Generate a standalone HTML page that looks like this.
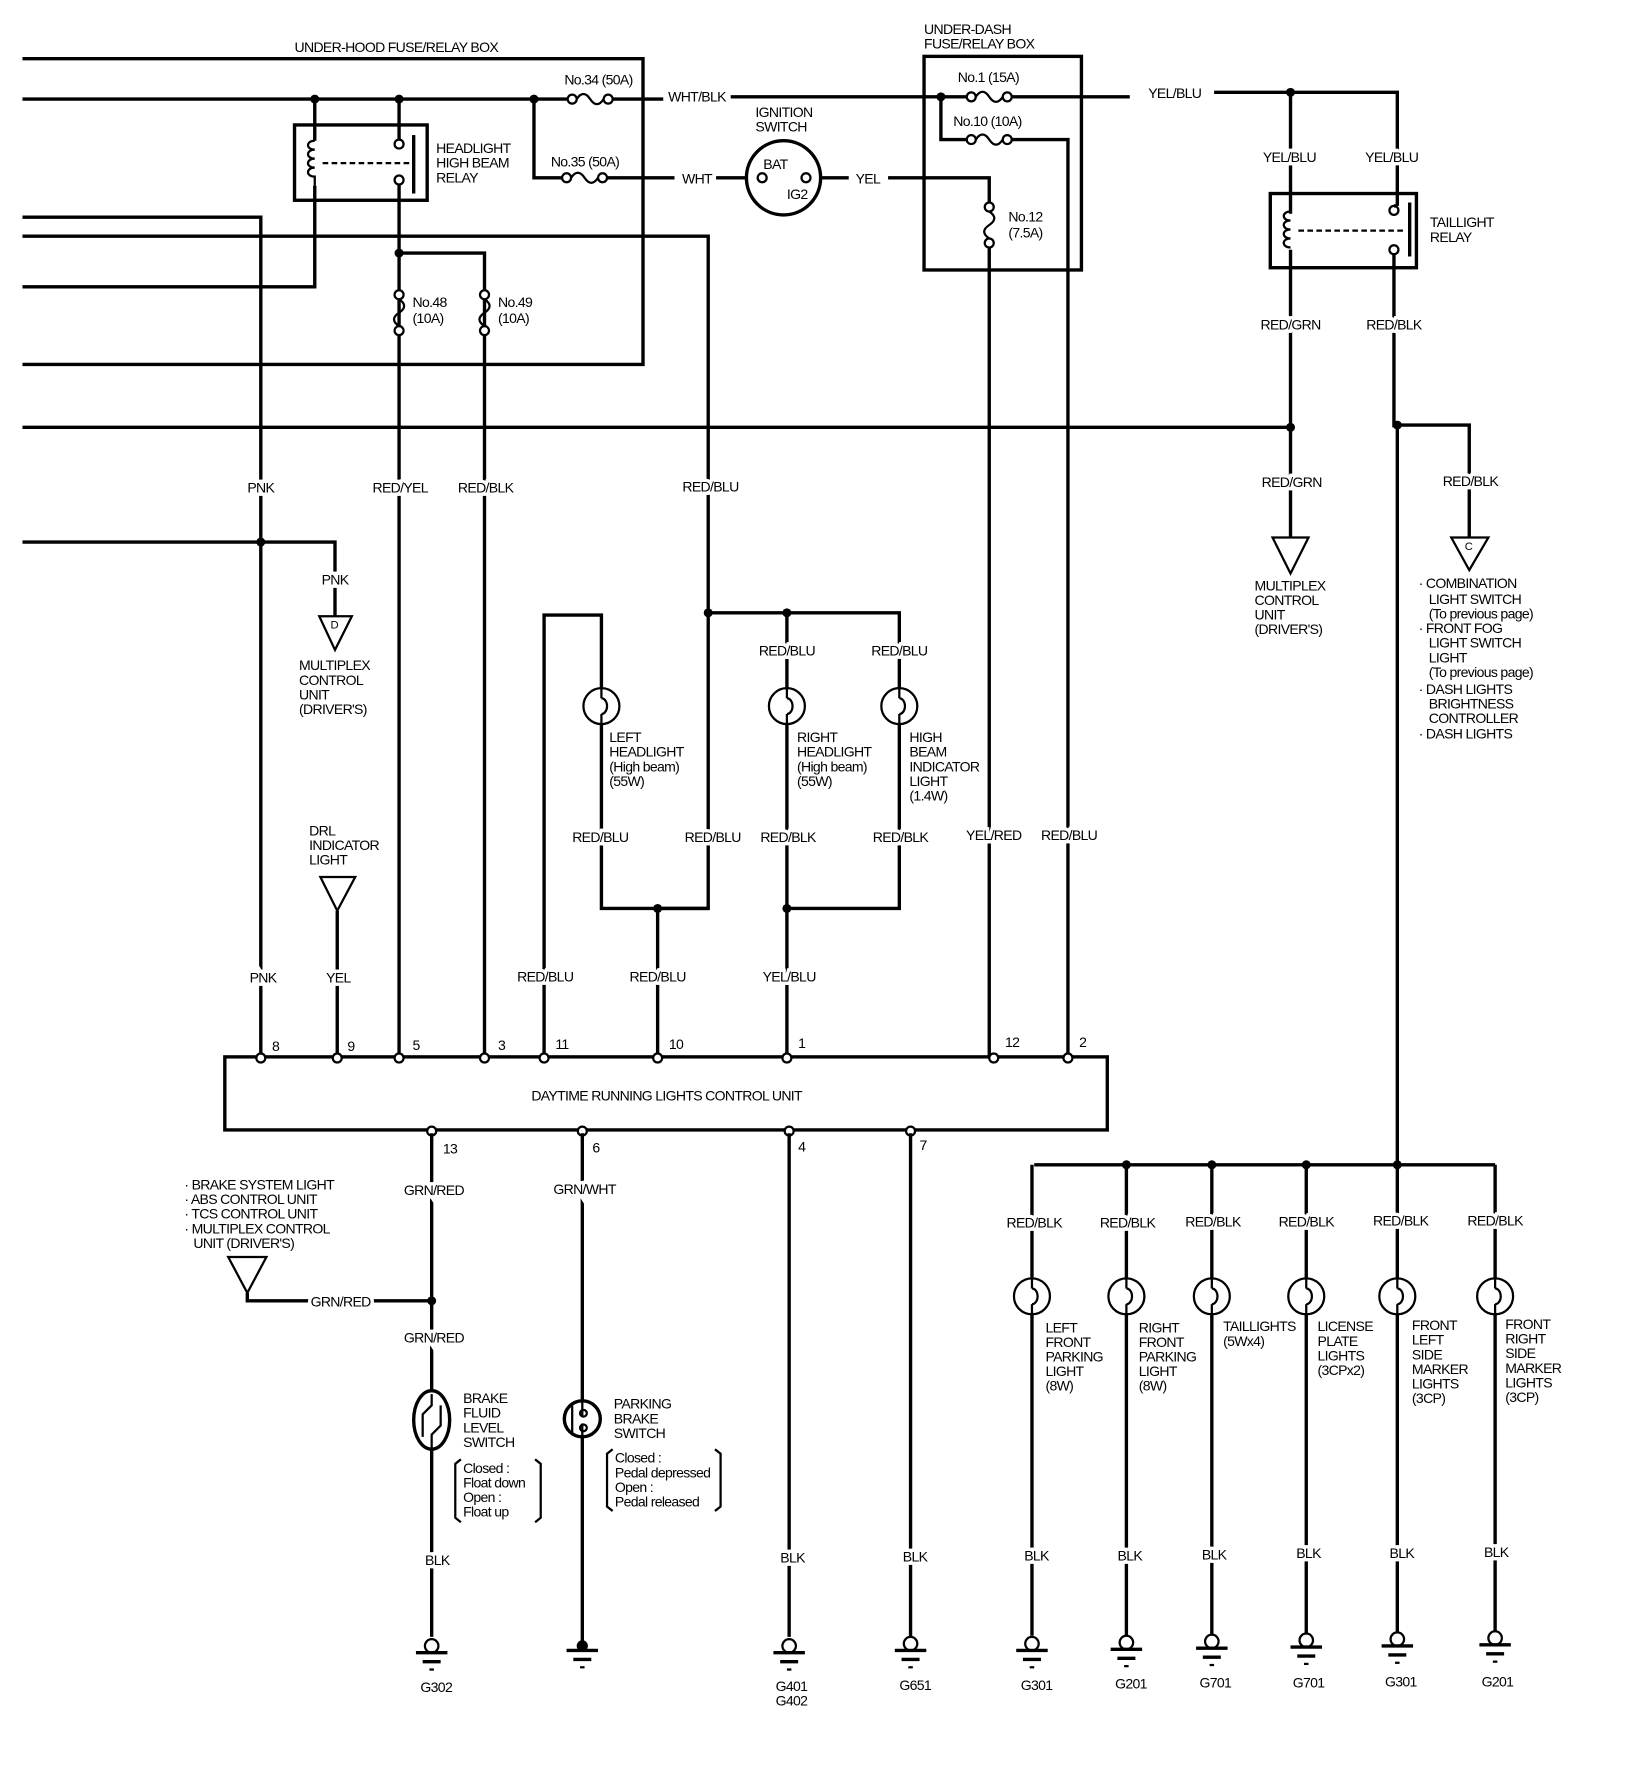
<!DOCTYPE html>
<html><head><meta charset="utf-8"><style>
html,body{margin:0;padding:0;background:#fff}
svg{display:block}
text{font-family:"Liberation Sans",sans-serif;font-size:12.5px;fill:#000;letter-spacing:-0.6px}
.l{stroke:#fff;stroke-width:6;paint-order:stroke;text-anchor:middle}
.w{fill:none;stroke:#000;stroke-width:3}
.t{fill:none;stroke:#000;stroke-width:2}
</style></head><body>
<svg width="1648" height="1772" viewBox="0 0 1466 1576" xmlns="http://www.w3.org/2000/svg">
<defs>
<g id="bulb"><circle r="16" class="t"/><path d="M0,-16 V-7 M0,16 V7" class="t"/><path d="M0,-7 a5,7 0 1,1 0,14" class="t"/></g>
<g id="gnd"><circle cx="0" cy="-6" r="6" fill="#fff" stroke="#000" stroke-width="2"/><path d="M-14,0 H14" stroke="#000" stroke-width="3"/><path d="M-8,8 H8" stroke="#000" stroke-width="3"/><path d="M-2,15 H2" stroke="#000" stroke-width="2"/></g>
<g id="fh"><circle cx="4" cy="0" r="4" fill="#fff" stroke="#000" stroke-width="2"/><circle cx="36" cy="0" r="4" fill="#fff" stroke="#000" stroke-width="2"/><path d="M8,0 q6,-9 12,0 t12,0" class="t"/></g>
<g id="fv"><circle cx="0" cy="4" r="4" fill="#fff" stroke="#000" stroke-width="2"/><circle cx="0" cy="36" r="4" fill="#fff" stroke="#000" stroke-width="2"/><path d="M0,8 q9,6 0,12 t0,12" class="t"/></g>
</defs>

<!-- top left wires -->
<path class="w" d="M20 52 H572 V324 H20"/>
<path class="w" d="M20 88 H505 M545 88 H590 M650 86 H860 M898 86 H1005 M1080 82 H1243 V183"/>
<path class="w" d="M280 88 V125 M280 165 V255 H20"/>
<path class="w" d="M355 88 V124 M355 164 V940"/>
<path class="w" d="M355 225 H431 V940"/>
<path class="w" d="M475 88 V158 H500 M540 158 H600 M637 158 H664 M730 158 H755 M790 158 H880 V180 M880 218 V940"/>
<path class="w" d="M837 86 V124 H860 M900 124 H950 V940"/>
<path class="w" d="M20 193 H232 V940"/>
<path class="w" d="M20 210 H630 V808 H585 V940"/>
<path class="w" d="M20 380 H1148"/>
<path class="w" d="M20 482 H298 V548"/>
<!-- dots -->
<g fill="#000"><circle cx="280" cy="88" r="4"/><circle cx="355" cy="88" r="4"/><circle cx="475" cy="88" r="4"/><circle cx="837" cy="86" r="4"/><circle cx="1148" cy="82" r="4"/><circle cx="355" cy="225" r="4"/><circle cx="232" cy="482" r="4"/><circle cx="630" cy="545" r="4"/><circle cx="700" cy="545" r="4"/><circle cx="585" cy="808" r="4"/><circle cx="700" cy="808" r="4"/><circle cx="1148" cy="380" r="4"/><circle cx="1243" cy="378" r="4"/><circle cx="384" cy="1157" r="4"/><circle cx="1002" cy="1036" r="4"/><circle cx="1078" cy="1036" r="4"/><circle cx="1162" cy="1036" r="4"/><circle cx="1243" cy="1036" r="4"/></g>

<!-- fuses -->
<use href="#fh" x="505" y="88"/><use href="#fh" x="500" y="158"/><use href="#fh" x="860" y="86"/><use href="#fh" x="860" y="124"/>
<use href="#fv" x="355" y="258"/><use href="#fv" x="431" y="258"/><use href="#fv" x="880" y="180"/>
<rect x="352" y="258" width="0" height="0"/>
<text x="502" y="75">No.34 (50A)</text>
<text x="490" y="148">No.35 (50A)</text>
<text x="852" y="73">No.1 (15A)</text>
<text x="848" y="112">No.10 (10A)</text>
<text x="897" y="197">No.12</text><text x="897" y="211">(7.5A)</text>
<text x="367" y="273">No.48</text><text x="367" y="287">(10A)</text>
<text x="443" y="273">No.49</text><text x="443" y="287">(10A)</text>

<!-- headlight relay -->
<rect x="262" y="111" width="118" height="67" class="w"/>
<path class="t" d="M280 125 c-8,0 -8,8 0,8 c-8,0 -8,8 0,8 c-8,0 -8,8 0,8 c-8,0 -8,8 0,8 V165"/>
<path d="M287 145 H366" stroke="#000" stroke-width="2" stroke-dasharray="5,3"/>
<circle cx="355" cy="128" r="4" fill="#fff" stroke="#000" stroke-width="2"/><circle cx="355" cy="160" r="4" fill="#fff" stroke="#000" stroke-width="2"/>
<path d="M368 120 V172" stroke="#000" stroke-width="3"/>
<text x="388" y="136">HEADLIGHT</text><text x="388" y="149">HIGH BEAM</text><text x="388" y="162">RELAY</text>
<text x="262" y="46">UNDER-HOOD FUSE/RELAY BOX</text>

<!-- ignition switch -->
<circle cx="697" cy="158" r="33" class="w"/>
<circle cx="678" cy="158" r="4" fill="#fff" stroke="#000" stroke-width="2"/><circle cx="717" cy="158" r="4" fill="#fff" stroke="#000" stroke-width="2"/>
<text x="679" y="150">BAT</text><text x="700" y="177">IG2</text>
<text x="672" y="104">IGNITION</text><text x="672" y="117">SWITCH</text>

<!-- under-dash -->
<rect x="822" y="50" width="140" height="190" class="w"/>
<text x="822" y="30">UNDER-DASH</text><text x="822" y="43">FUSE/RELAY BOX</text>

<!-- taillight relay -->
<rect x="1130" y="172" width="130" height="66" class="w"/>
<path class="w" d="M1148 82 V190 M1148 222 V478"/>
<path class="t" d="M1148 188 c-8,0 -8,8 0,8 c-8,0 -8,8 0,8 c-8,0 -8,8 0,8 c-8,0 -8,8 0,8"/>
<path d="M1155 205 H1250" stroke="#000" stroke-width="2" stroke-dasharray="5,3"/>
<circle cx="1240" cy="187" r="4" fill="#fff" stroke="#000" stroke-width="2"/><circle cx="1240" cy="222" r="4" fill="#fff" stroke="#000" stroke-width="2"/>
<path d="M1254 180 V228" stroke="#000" stroke-width="3"/>
<path class="w" d="M1243 183 H1240 M1240 226 V380 M1243 378 V1036"/>
<path class="w" d="M1243 378 H1307 V478"/>
<text x="1272" y="202">TAILLIGHT</text><text x="1272" y="215">RELAY</text>
<polygon points="1132,478 1164,478 1148,510" class="t"/>
<polygon points="1291,478 1324,478 1307,507" class="t"/><text x="1303" y="489" style="font-size:10px">C</text>
<text x="1116" y="525">MULTIPLEX</text><text x="1116" y="538">CONTROL</text><text x="1116" y="551">UNIT</text><text x="1116" y="564">(DRIVER'S)</text>
<text x="1262" y="523">· COMBINATION</text><text x="1271" y="537">LIGHT SWITCH</text><text x="1271" y="550">(To previous page)</text>
<text x="1262" y="563">· FRONT FOG</text><text x="1271" y="576">LIGHT SWITCH</text><text x="1271" y="589">LIGHT</text><text x="1271" y="602">(To previous page)</text>
<text x="1262" y="617">· DASH LIGHTS</text><text x="1271" y="630">BRIGHTNESS</text><text x="1271" y="643">CONTROLLER</text><text x="1262" y="657">· DASH LIGHTS</text>

<!-- D triangle -->
<polygon points="284,548 313,548 298,578" class="t"/><text x="294" y="559" style="font-size:10px">D</text>
<text x="266" y="596">MULTIPLEX</text><text x="266" y="609">CONTROL</text><text x="266" y="622">UNIT</text><text x="266" y="635">(DRIVER'S)</text>

<!-- DRL indicator -->
<polygon points="285,780 316,780 300,810" class="t"/>
<path class="w" d="M300 810 V940"/>
<text x="275" y="743">DRL</text><text x="275" y="756">INDICATOR</text><text x="275" y="769">LIGHT</text>

<!-- headlights -->
<path class="w" d="M484 940 V547 H535 V612 M535 644 V808 H630"/>
<path class="w" d="M630 545 H800 V612 M700 545 V612 M700 644 V940 M700 808 H800 V644"/>
<use href="#bulb" x="535" y="628"/><use href="#bulb" x="700" y="628"/><use href="#bulb" x="800" y="628"/>
<text x="542" y="660">LEFT</text><text x="542" y="673">HEADLIGHT</text><text x="542" y="686">(High beam)</text><text x="542" y="699">(55W)</text>
<text x="709" y="660">RIGHT</text><text x="709" y="673">HEADLIGHT</text><text x="709" y="686">(High beam)</text><text x="709" y="699">(55W)</text>
<text x="809" y="660">HIGH</text><text x="809" y="673">BEAM</text><text x="809" y="686">INDICATOR</text><text x="809" y="699">LIGHT</text><text x="809" y="712">(1.4W)</text>

<!-- DRL unit -->
<rect x="200" y="940" width="785" height="65" class="w" fill="#fff"/>
<text x="593" y="979" style="text-anchor:middle">DAYTIME RUNNING LIGHTS CONTROL UNIT</text>
<g fill="#fff" stroke="#000" stroke-width="2">
<circle cx="232" cy="941" r="4"/><circle cx="300" cy="941" r="4"/><circle cx="355" cy="941" r="4"/><circle cx="431" cy="941" r="4"/><circle cx="484" cy="941" r="4"/><circle cx="585" cy="941" r="4"/><circle cx="700" cy="941" r="4"/><circle cx="884" cy="941" r="4"/><circle cx="950" cy="941" r="4"/>
<circle cx="384" cy="1006" r="4"/><circle cx="518" cy="1006" r="4"/><circle cx="702" cy="1006" r="4"/><circle cx="810" cy="1006" r="4"/></g>
<g style="font-size:11px"><text x="242" y="935">8</text><text x="309" y="935">9</text><text x="367" y="934">5</text><text x="443" y="934">3</text><text x="494" y="933">11</text><text x="595" y="933">10</text><text x="710" y="932">1</text><text x="894" y="931">12</text><text x="960" y="931">2</text>
<text x="394" y="1026">13</text><text x="527" y="1025">6</text><text x="710" y="1024">4</text><text x="818" y="1023">7</text></g>

<!-- bottom left -->
<path class="w" d="M384 1008 V1238 M384 1288 V1456 M384 1157 H220 V1150"/>
<polygon points="203,1118 237,1118 220,1150" class="t"/>
<text x="164" y="1058">· BRAKE SYSTEM LIGHT</text><text x="164" y="1071">· ABS CONTROL UNIT</text><text x="164" y="1084">· TCS CONTROL UNIT</text><text x="164" y="1097">· MULTIPLEX CONTROL</text><text x="172" y="1110">UNIT (DRIVER'S)</text>
<ellipse cx="384" cy="1263" rx="16" ry="26" class="w"/>
<path class="t" d="M384 1240 V1250 l-8,8 V1278 M384 1288 V1276 l8,-8 V1250"/>
<text x="412" y="1248">BRAKE</text><text x="412" y="1261">FLUID</text><text x="412" y="1274">LEVEL</text><text x="412" y="1287">SWITCH</text>
<path class="t" d="M410 1298 l-5,4 V1350 l5,4 M476 1298 l5,4 V1350 l-5,4"/>
<text x="412" y="1310">Closed :</text><text x="412" y="1323">Float down</text><text x="412" y="1336">Open :</text><text x="412" y="1349">Float up</text>

<path class="w" d="M518 1008 V1246 M518 1278 V1462"/>
<circle cx="518" cy="1262" r="16" class="w"/>
<path class="t" d="M509 1250 V1275 M518 1246 V1260 M518 1266 V1278"/><circle cx="519" cy="1257" r="3" class="t"/><circle cx="519" cy="1270" r="3" class="t"/>
<text x="546" y="1253">PARKING</text><text x="546" y="1266">BRAKE</text><text x="546" y="1279">SWITCH</text>
<path class="t" d="M545 1289 l-5,4 V1340 l5,4 M636 1289 l5,4 V1340 l-5,4"/>
<text x="547" y="1301">Closed :</text><text x="547" y="1314">Pedal depressed</text><text x="547" y="1327">Open :</text><text x="547" y="1340">Pedal released</text>
<g transform="translate(518,1468)"><path d="M-14,0 H14" stroke="#000" stroke-width="3"/><circle cx="0" cy="-4" r="5" fill="#000"/><path d="M-8,8 H8" stroke="#000" stroke-width="3"/><path d="M-2,15 H2" stroke="#000" stroke-width="2"/></g>

<path class="w" d="M702 1008 V1456 M810 1008 V1456"/>
<use href="#gnd" x="384" y="1470"/><use href="#gnd" x="702" y="1470"/><use href="#gnd" x="810" y="1468"/>
<text x="374" y="1505">G302</text><text x="690" y="1504">G401</text><text x="690" y="1517">G402</text><text x="800" y="1503">G651</text>

<!-- bottom right -->
<path class="w" d="M920 1036 H1330 M918 1036 V1137 M918 1169 V1455 M1002 1036 V1137 M1002 1169 V1455 M1078 1036 V1137 M1078 1169 V1455 M1162 1036 V1137 M1162 1169 V1455 M1243 1036 V1137 M1243 1169 V1455 M1330 1036 V1137 M1330 1169 V1455"/>
<use href="#bulb" x="918" y="1153"/><use href="#bulb" x="1002" y="1153"/><use href="#bulb" x="1078" y="1153"/><use href="#bulb" x="1162" y="1153"/><use href="#bulb" x="1243" y="1153"/><use href="#bulb" x="1330" y="1153"/>
<use href="#gnd" x="918" y="1468"/><use href="#gnd" x="1002" y="1467"/><use href="#gnd" x="1078" y="1466"/><use href="#gnd" x="1162" y="1465"/><use href="#gnd" x="1243" y="1464"/><use href="#gnd" x="1330" y="1463"/>
<text x="908" y="1503">G301</text><text x="992" y="1502">G201</text><text x="1067" y="1501">G701</text><text x="1150" y="1501">G701</text><text x="1232" y="1500">G301</text><text x="1318" y="1500">G201</text>
<text x="930" y="1185">LEFT</text><text x="930" y="1198">FRONT</text><text x="930" y="1211">PARKING</text><text x="930" y="1224">LIGHT</text><text x="930" y="1237">(8W)</text>
<text x="1013" y="1185">RIGHT</text><text x="1013" y="1198">FRONT</text><text x="1013" y="1211">PARKING</text><text x="1013" y="1224">LIGHT</text><text x="1013" y="1237">(8W)</text>
<text x="1088" y="1184">TAILLIGHTS</text><text x="1088" y="1197">(5Wx4)</text>
<text x="1172" y="1184">LICENSE</text><text x="1172" y="1197">PLATE</text><text x="1172" y="1210">LIGHTS</text><text x="1172" y="1223">(3CPx2)</text>
<text x="1256" y="1183">FRONT</text><text x="1256" y="1196">LEFT</text><text x="1256" y="1209">SIDE</text><text x="1256" y="1222">MARKER</text><text x="1256" y="1235">LIGHTS</text><text x="1256" y="1248">(3CP)</text>
<text x="1339" y="1182">FRONT</text><text x="1339" y="1195">RIGHT</text><text x="1339" y="1208">SIDE</text><text x="1339" y="1221">MARKER</text><text x="1339" y="1234">LIGHTS</text><text x="1339" y="1247">(3CP)</text>

<!-- wire labels -->
<g class="l">
<text x="620" y="90" class="l">WHT/BLK</text><text x="620" y="163" class="l">WHT</text><text x="772" y="163" class="l">YEL</text><text x="1045" y="87" class="l">YEL/BLU</text>
<text x="232" y="438" class="l">PNK</text><text x="356" y="438" class="l">RED/YEL</text><text x="432" y="438" class="l">RED/BLK</text><text x="632" y="437" class="l">RED/BLU</text>
<text x="298" y="520" class="l">PNK</text><text x="700" y="583" class="l">RED/BLU</text><text x="800" y="583" class="l">RED/BLU</text>
<text x="534" y="749" class="l">RED/BLU</text><text x="634" y="749" class="l">RED/BLU</text><text x="701" y="749" class="l">RED/BLK</text><text x="801" y="749" class="l">RED/BLK</text><text x="884" y="747" class="l">YEL/RED</text><text x="951" y="747" class="l">RED/BLU</text>
<text x="234" y="874" class="l">PNK</text><text x="301" y="874" class="l">YEL</text><text x="485" y="873" class="l">RED/BLU</text><text x="585" y="873" class="l">RED/BLU</text><text x="702" y="873" class="l">YEL/BLU</text>
<text x="1147" y="144" class="l">YEL/BLU</text><text x="1238" y="144" class="l">YEL/BLU</text><text x="1148" y="293" class="l">RED/GRN</text><text x="1240" y="293" class="l">RED/BLK</text>
<text x="1149" y="433" class="l">RED/GRN</text><text x="1308" y="432" class="l">RED/BLK</text>
<text x="386" y="1063" class="l">GRN/RED</text><text x="520" y="1062" class="l">GRN/WHT</text><text x="303" y="1162" class="l">GRN/RED</text><text x="386" y="1194" class="l">GRN/RED</text>
<text x="389" y="1392" class="l">BLK</text><text x="705" y="1390" class="l">BLK</text><text x="814" y="1389" class="l">BLK</text>
<text x="920" y="1092" class="l">RED/BLK</text><text x="1003" y="1092" class="l">RED/BLK</text><text x="1079" y="1091" class="l">RED/BLK</text><text x="1162" y="1091" class="l">RED/BLK</text><text x="1246" y="1090" class="l">RED/BLK</text><text x="1330" y="1090" class="l">RED/BLK</text>
<text x="922" y="1388" class="l">BLK</text><text x="1005" y="1388" class="l">BLK</text><text x="1080" y="1387" class="l">BLK</text><text x="1164" y="1386" class="l">BLK</text><text x="1247" y="1386" class="l">BLK</text><text x="1331" y="1385" class="l">BLK</text>
</g>
</svg>
</body></html>
